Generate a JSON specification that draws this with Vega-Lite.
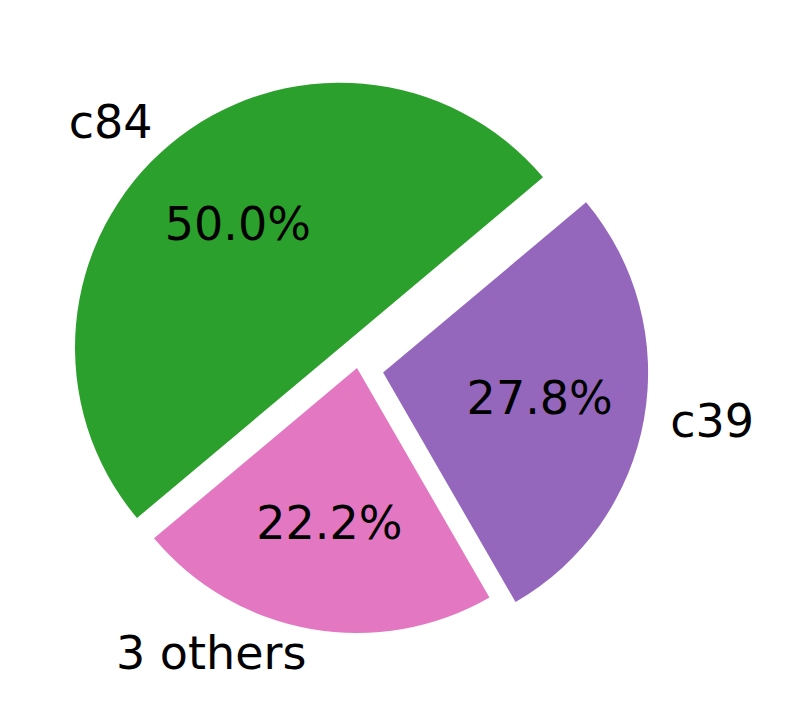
{
  "$schema": "https://vega.github.io/schema/vega-lite/v6.json",
  "width": 714,
  "height": 702,
  "autosize": "none",
  "padding": {"left": 0, "top": 17, "right": 75, "bottom": 0},
  "background": "white",
  "config": {"view": {"stroke": null}, "text": {"font": "DejaVu Sans", "fontSize": 46, "color": "black"}},
  "data": {"values": [
    {"label": "c84", "share": 0.5},
    {"label": "c39", "share": 0.2778},
    {"label": "3 others", "share": 0.2222}
  ]},
  "encoding": {
    "theta": {"field": "share", "type": "quantitative", "stack": true, "scale": {"range": [-2.2689, 4.0143]}},
    "order": {"field": "label", "sort": "descending"}
  },
  "layer": [
    {"mark": {"type": "arc", "outerRadius": 265, "color": "#2ca02c", "xOffset": -17.0, "yOffset": -20.3, "stroke": null},
     "encoding": {"opacity": {"condition": {"test": "datum.label === 'c84'", "value": 1}, "value": 0}}},
    {"mark": {"type": "arc", "outerRadius": 265, "color": "#9467bd", "xOffset": 26.1, "yOffset": 4.6, "stroke": null},
     "encoding": {"opacity": {"condition": {"test": "datum.label === 'c39'", "value": 1}, "value": 0}}},
    {"mark": {"type": "arc", "outerRadius": 265, "color": "#e377c2", "stroke": null},
     "encoding": {"opacity": {"condition": {"test": "datum.label === '3 others'", "value": 1}, "value": 0}}},
    {"mark": {"type": "text", "radius": 291.5, "align": "right", "baseline": "middle", "xOffset": -17.0, "yOffset": -20.3},
     "encoding": {"text": {"condition": {"test": "datum.label === 'c84'", "field": "label"}, "value": ""}}},
    {"mark": {"type": "text", "radius": 291.5, "align": "left", "baseline": "middle", "xOffset": 26.1, "yOffset": 4.6},
     "encoding": {"text": {"condition": {"test": "datum.label === 'c39'", "field": "label"}, "value": ""}}},
    {"mark": {"type": "text", "radius": 291.5, "align": "right", "baseline": "middle"},
     "encoding": {"text": {"condition": {"test": "datum.label === '3 others'", "field": "label"}, "value": ""}}},
    {"mark": {"type": "text", "radius": 159, "align": "center", "baseline": "middle", "xOffset": -17.0, "yOffset": -20.3},
     "encoding": {"text": {"condition": {"test": "datum.label === 'c84'", "field": "share", "format": ".1%"}, "value": ""}}},
    {"mark": {"type": "text", "radius": 159, "align": "center", "baseline": "middle", "xOffset": 26.1, "yOffset": 4.6},
     "encoding": {"text": {"condition": {"test": "datum.label === 'c39'", "field": "share", "format": ".1%"}, "value": ""}}},
    {"mark": {"type": "text", "radius": 159, "align": "center", "baseline": "middle"},
     "encoding": {"text": {"condition": {"test": "datum.label === '3 others'", "field": "share", "format": ".1%"}, "value": ""}}}
  ]
}
